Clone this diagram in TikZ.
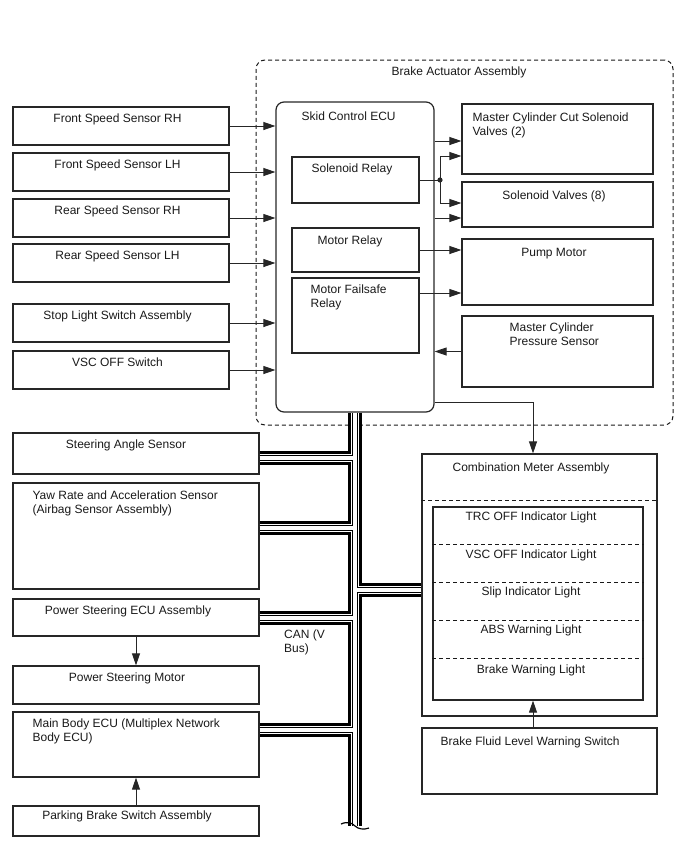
\documentclass[tikz,border=0pt]{standalone}
\usepackage{fontspec}
\setmainfont{Liberation Sans}
\usetikzlibrary{arrows.meta}

\begin{document}
\begin{tikzpicture}[x=1pt, y=-1pt,
    every node/.style={font=\fontsize{12pt}{14pt}\selectfont, text=black!90},
    box/.style 2 args={draw=black!85, line width=1.2pt, inner sep=0pt, minimum width=#1, minimum height=#2},
    ttl/.style={anchor=north, inner sep=0pt, align=center, yshift=-1.5pt},
    ttlw/.style={anchor=north west, inner sep=0pt, align=left, yshift=-1.5pt},
    arr/.style={line width=0.9pt, draw=black!85, -{Triangle[length=12pt, width=8pt]}},
    divider/.style={dash pattern=on 4pt off 3pt, line width=0.9pt, draw=black!90},
]
    \useasboundingbox (0,0) rectangle (688,852);

    % Brake actuator and its ECU
    \node[box={417pt}{365pt}, line width=1pt, draw=black!90, dash pattern=on 4pt off 3pt, rounded corners=9pt,
        label={[ttl, xshift=-5.5pt, yshift=-5.4pt]north:Brake Actuator Assembly}] (baa) at (464.5,242.5) {};
    \node[box={158pt}{310pt}, rounded corners=8pt,
        label={[ttlw, xshift=26pt, yshift=-8.4pt]north west:Skid Control ECU}] (ecu) at (355,257) {};
    \node[box={127pt}{46pt}, label={[ttl, xshift=-3.5pt, yshift=-5.4pt]north:Solenoid Relay}] (solrel) at (355.5,180) {};
    \node[box={127pt}{44pt}, label={[ttl, xshift=-5.5pt, yshift=-6.4pt]north:Motor Relay}] (motrel) at (355.5,250) {};
    \node[box={127pt}{75pt}, label={[ttlw, xshift=19pt, yshift=-5.4pt]north west:{Motor Failsafe\\Relay}}] (failsafe) at (355.5,315.5) {};

    % Actuator outputs and pressure sensor
    \node[box={191pt}{70pt}, label={[ttlw, xshift=11pt, yshift=-7.4pt]north west:{Master Cylinder Cut Solenoid\\Valves (2)}}] (mccsv) at (557.5,139) {};
    \node[box={191pt}{45pt}, label={[ttl, xshift=-3.5pt, yshift=-7.4pt]north:Solenoid Valves (8)}] (sv8) at (557.5,204.5) {};
    \node[box={191pt}{66pt}, label={[ttl, xshift=-3.5pt, yshift=-8.4pt]north:Pump Motor}] (pump) at (557.5,272) {};
    \node[box={191pt}{71pt}, label={[ttlw, xshift=48pt, yshift=-5.4pt]north west:{Master Cylinder\\Pressure Sensor}}] (mcps) at (557.5,351.5) {};

    % Sensors and switches into the ECU
    \foreach \n/\y/\t in {fsrh/126/Front Speed Sensor RH, fslh/172/Front Speed Sensor LH,
        rsrh/218/Rear Speed Sensor RH, rslh/263/Rear Speed Sensor LH,
        stop/323/Stop Light Switch Assembly, vscsw/370/VSC OFF Switch}
        \node[box={216pt}{38pt}, label={[ttl, xshift=-3.5pt, yshift=-5.5pt]north:\t}] (\n) at (121,\y) {};
    \foreach \n in {fsrh,fslh,rsrh,rslh,stop,vscsw}
        \draw[arr] (\n.east) -- (\n.east -| ecu.west);

    % ECU outputs
    \coordinate (jn) at (440,180);
    \draw[line width=0.9pt, black!85] (solrel.east) -- (jn);
    \fill[black!85] (jn) circle (2.6pt);
    \draw[arr] (jn) |- ([yshift=-17pt]mccsv.west);
    \draw[arr] (jn) |- ([yshift=1.5pt]sv8.west);
    \coordinate (mcc1) at ([yshift=-2pt]mccsv.west);
    \draw[arr] (mcc1 -| ecu.east) -- (mcc1);
    \coordinate (sv2) at ([yshift=-13.5pt]sv8.west);
    \draw[arr] (sv2 -| ecu.east) -- (sv2);
    \draw[arr] (motrel.east) -- (motrel.east -| pump.west);
    \coordinate (fsout) at ([yshift=22.5pt]failsafe.east);
    \draw[arr] (fsout) -- (fsout -| pump.west);
    \draw[arr] (mcps.west) -- (mcps.west -| ecu.east);

    % CAN members on the left
    \node[box={246pt}{41pt}, label={[ttl, xshift=-10pt, yshift=-5.4pt]north:Steering Angle Sensor}] (sas) at (136,453.5) {};
    \node[box={246pt}{106pt}, label={[ttlw, xshift=20pt, yshift=-6.4pt]north west:{Yaw Rate and Acceleration Sensor\\(Airbag Sensor Assembly)}}] (yaw) at (136,536) {};
    \node[box={246pt}{37pt}, label={[ttl, xshift=-8pt, yshift=-5.4pt]north:Power Steering ECU Assembly}] (pse) at (136,617.5) {};
    \node[box={246pt}{38pt}, label={[ttl, xshift=-9pt, yshift=-5.4pt]north:Power Steering Motor}] (psm) at (136,685) {};
    \node[box={246pt}{65pt}, label={[ttlw, xshift=20pt, yshift=-5.4pt]north west:{Main Body ECU (Multiplex Network\\Body ECU)}}] (mbe) at (136,744.5) {};
    \node[box={246pt}{30pt}, label={[ttl, xshift=-9pt, yshift=-3.4pt]north:Parking Brake Switch Assembly}] (pbs) at (136,821) {};
    \draw[arr] (pse.south) -- (psm.north);
    \draw[arr] (pbs.north) -- (mbe.south);

    % Combination meter
    \node[box={235pt}{262pt}, label={[ttl, xshift=-8.5pt, yshift=-7.4pt]north:Combination Meter Assembly}] (cma) at (539.5,585) {};
    \draw[divider] (cma.west |- 0,500) -- (cma.east |- 0,500);
    \node[box={210pt}{193pt}] (lamps) at (538,603.5) {};
    \foreach \n/\y/\t in {trc/520/TRC OFF Indicator Light, vscl/558/VSC OFF Indicator Light,
        slip/595/Slip Indicator Light, abs/633/ABS Warning Light, bwl/673/Brake Warning Light}
        \node[anchor=base, inner sep=0pt] (\n) at (531,\y) {\t};
    \foreach \y in {544,582,620,658}
        \draw[divider] (lamps.west |- 0,\y) -- (lamps.east |- 0,\y);
    \node[box={235pt}{66pt}, label={[ttlw, xshift=19pt, yshift=-7.4pt]north west:Brake Fluid Level Warning Switch}] (bflws) at (539.5,761) {};
    \coordinate (fluid) at ([xshift=-6.5pt]bflws.north);
    \draw[arr] (fluid) -- (fluid |- lamps.south);
    \coordinate (ecuout) at ([yshift=10pt]ecu.south east);
    \coordinate (meterin) at ([xshift=-6.5pt]cma.north);
    \draw[arr] (ecuout) -| (meterin);

    % CAN bus, drawn in layers
    \coordinate (busend) at (355,826);
    \coordinate (bsas) at ([yshift=-4.5pt]sas.east);
    \coordinate (byaw) at ([yshift=8pt]yaw.east);
    \coordinate (bpse) at (pse.east);
    \coordinate (bmbe) at ([yshift=14.5pt]mbe.east);
    \coordinate (bcma) at ([yshift=-5pt]cma.west);
    \foreach \w/\c in {14/black, 8/white, 6/black, 4/white}
        \draw[line width=\w pt, \c] (ecu.south) -- (busend)
            (bsas) -- (bsas -| ecu.south) (byaw) -- (byaw -| ecu.south)
            (bpse) -- (bpse -| ecu.south) (bmbe) -- (bmbe -| ecu.south)
            (bcma) -- (bcma -| ecu.south);
    \draw[line width=1.2pt] (341,824) .. controls (348,821) and (352,823) .. (355,826)
        .. controls (358,829) and (364,830) .. (369,828);
    \node[ttlw] (can) at (284,628) {CAN (V\\Bus)};
\end{tikzpicture}
\end{document}
